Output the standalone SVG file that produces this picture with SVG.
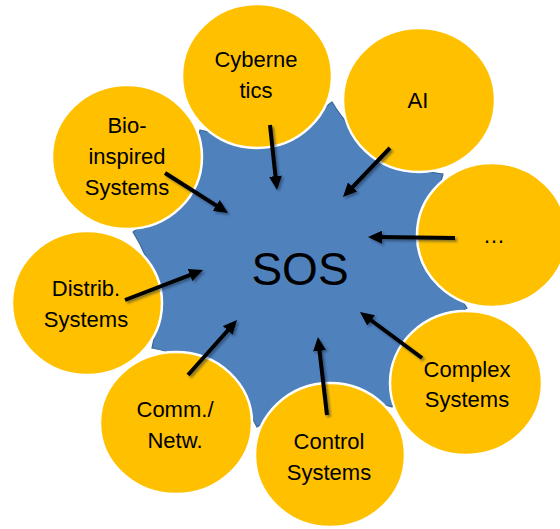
<svg xmlns="http://www.w3.org/2000/svg" width="560" height="529" viewBox="0 0 560 529">
  <style>
    .hub { fill: #4F81BD; stroke: #3A6796; stroke-width: 1.2; }
    .bubble { fill: #FFC000; stroke: #FFFFFF; stroke-width: 2.5; }
    .label { font-family: "Liberation Sans", Arial, sans-serif; font-size: 22px; fill: #000; text-anchor: middle; }
    .big { font-family: "Liberation Sans", Arial, sans-serif; font-size: 46px; fill: #000; text-anchor: middle; }
    .link { stroke: #000; stroke-width: 4; fill: none; marker-end: url(#head); }
  </style>
  <defs>
    <marker id="head" markerUnits="userSpaceOnUse" markerWidth="14" markerHeight="13" refX="4" refY="6.5" orient="auto">
      <path d="M0,0 L14,6.5 L0,13 Z" fill="#000"/>
    </marker>
    <filter id="shade" x="-20%" y="-20%" width="140%" height="140%">
      <feGaussianBlur in="SourceAlpha" stdDeviation="1"/>
      <feOffset dx="1.5" dy="1.5" result="off"/>
      <feFlood flood-color="#1a2a40" flood-opacity="0.5"/>
      <feComposite in2="off" operator="in"/>
      <feMerge>
        <feMergeNode/>
        <feMergeNode in="SourceGraphic"/>
      </feMerge>
    </filter>
  </defs>

  <!-- central eight-point star with concave sides -->
  <g id="sos">
    <path class="hub" d="M467,308 A150,150 0 0 0 392,407 A150,150 0 0 0 257,427 A150,150 0 0 0 152,348 A150,150 0 0 0 133,232 A150,150 0 0 0 200,130 A150,150 0 0 0 332,102 A150,150 0 0 0 443,174 A150,150 0 0 0 467,308 Z"/>
    <text class="big" x="300" y="285">SOS</text>
  </g>

  <!-- surrounding fields -->
  <g id="cybernetics">
    <ellipse class="bubble" cx="257" cy="76" rx="75" ry="72"/>
    <text class="label" x="256" y="67">Cyberne</text>
    <text class="label" x="256" y="98">tics</text>
  </g>
  <g id="ai">
    <ellipse class="bubble" cx="419" cy="100" rx="76" ry="72"/>
    <text class="label" x="418" y="108">AI</text>
  </g>
  <g id="bio">
    <ellipse class="bubble" cx="127" cy="157" rx="75" ry="72"/>
    <text class="label" x="127" y="133">Bio-</text>
    <text class="label" x="127" y="164">inspired</text>
    <text class="label" x="127" y="195">Systems</text>
  </g>
  <g id="more">
    <ellipse class="bubble" cx="492" cy="235" rx="75" ry="72"/>
    <text class="label" x="494" y="243">…</text>
  </g>
  <g id="distrib">
    <ellipse class="bubble" cx="87" cy="303" rx="75" ry="72"/>
    <text class="label" x="86" y="296">Distrib.</text>
    <text class="label" x="86" y="327">Systems</text>
  </g>
  <g id="comm">
    <ellipse class="bubble" cx="176" cy="423" rx="76" ry="71"/>
    <text class="label" x="175" y="417">Comm./</text>
    <text class="label" x="175" y="448">Netw.</text>
  </g>
  <g id="control">
    <ellipse class="bubble" cx="330" cy="455" rx="75" ry="72"/>
    <text class="label" x="329" y="449">Control</text>
    <text class="label" x="329" y="480">Systems</text>
  </g>
  <g id="complex">
    <ellipse class="bubble" cx="466" cy="383" rx="76" ry="72"/>
    <text class="label" x="467" y="377">Complex</text>
    <text class="label" x="467" y="407">Systems</text>
  </g>

  <!-- arrows pointing into the centre -->
  <g id="connectors" filter="url(#shade)">
    <line class="link" x1="270" y1="125" x2="275.9" y2="180.1"/>
    <line class="link" x1="390" y1="148" x2="349.9" y2="189.8"/>
    <line class="link" x1="165" y1="173" x2="219.6" y2="207.6"/>
    <line class="link" x1="455" y1="238" x2="378" y2="237.1"/>
    <line class="link" x1="125" y1="300" x2="193.7" y2="273.6"/>
    <line class="link" x1="188" y1="375" x2="230.4" y2="327.5"/>
    <line class="link" x1="327" y1="415" x2="319.1" y2="346.9"/>
    <line class="link" x1="422" y1="358" x2="368" y2="318"/>
  </g>
</svg>
